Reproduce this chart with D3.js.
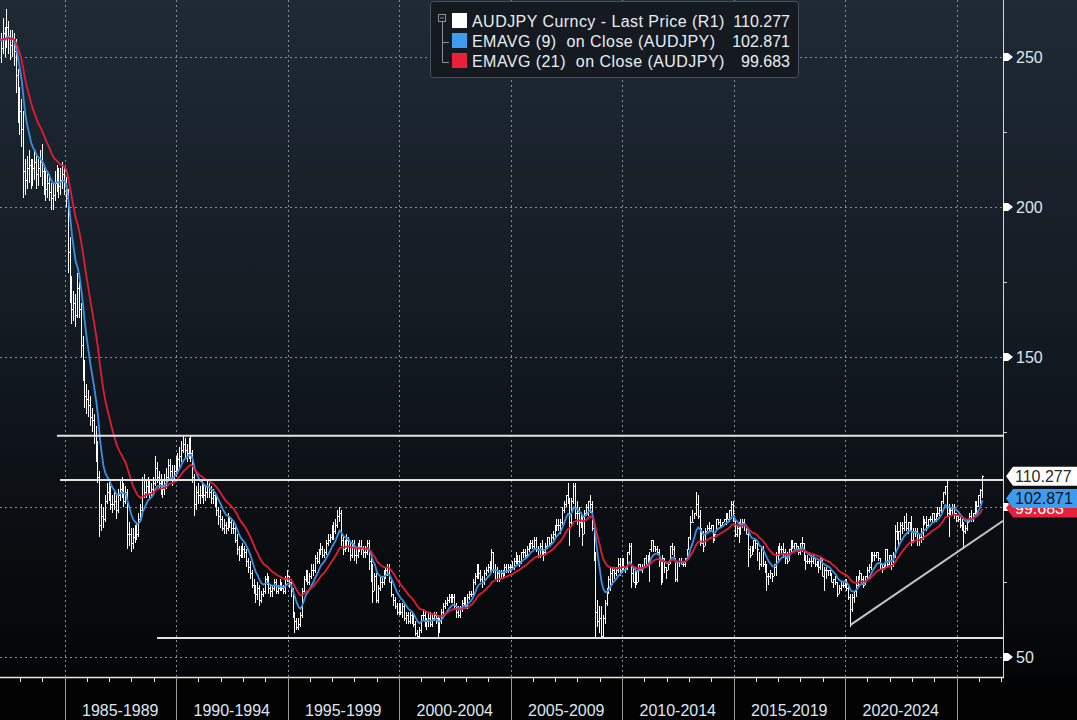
<!DOCTYPE html>
<html>
<head>
<meta charset="utf-8">
<script src="https://cdn.jsdelivr.net/npm/d3@7"></script>
<style>
  html, body { margin: 0; padding: 0; background: #000; }
  svg { display: block; font-family: "Liberation Sans", Arial, sans-serif; }
</style>
</head>
<body>
<svg id="chart" width="1077" height="720"></svg>
<script>

// monthly bars, AUDJPY, Jan 1982 .. Feb 2026 (one row per year)
const firstYear = 1982;

const closeByYear = [
  [256,253,258,255,260,257,254,256,252,244,236,232],
  [226,212,209,213,214,210,213,215,211,213,215,212],
  [209,206,208,205,203,204,208,210,207,209,211,208],
  [203,185,173,166,168,164,173,166,154,146,137,136],
  [134,130,129,124,119,110,94,97,96,102,105,106],
  [101,101,102,99,104,106,107,102,105,91,91,88],
  [90,92,91,96,99,109,105,107,107,105,106,108],
  [113,110,108,107,106,109,110,114,112,109,112,114],
  [116,117,119,121,119,118,120,118,110,101,105,104],
  [104,107,104,105,107,105,103,104,102,99,97,96],
  [93,94,93,96,95,93,93,89,86,84,85,86],
  [85,82,80,78,74,72,71,73,69,71,72,76],
  [76,73,72,73,75,72,73,74,73,72,76,77],
  [75,72,64,62,60,61,64,72,76,78,75,77],
  [79,79,83,82,85,86,84,85,88,89,90,92],
  [92,94,97,98,89,86,88,89,87,84,87,84],
  [84,86,87,86,85,85,88,82,80,72,77,69],
  [73,75,75,78,79,80,75,71,69,67,65,67],
  [65,67,63,64,62,64,63,61,58,57,59,64],
  [64,61,62,63,61,63,64,63,59,62,65,67],
  [68,69,70,69,70,67,65,64,66,68,69,67],
  [70,71,71,75,77,80,78,76,75,78,79,80],
  [80,85,79,79,78,76,78,78,80,79,80,80],
  [80,82,83,82,82,85,85,84,86,87,88,87],
  [89,86,84,87,85,85,87,90,88,90,91,94],
  [94,94,95,99,101,104,102,95,102,107,98,98],
  [95,97,91,98,100,102,101,93,84,65,62,63],
  [57,63,68,72,76,78,79,78,79,81,79,83],
  [80,80,85,87,78,75,78,75,81,79,80,83],
  [81,83,86,89,87,86,85,82,75,83,80,79],
  [81,87,86,83,76,82,82,81,81,83,86,90],
  [95,95,98,101,97,90,88,87,92,93,93,94],
  [89,91,96,95,94,95,96,97,96,99,101,98],
  [91,93,91,94,95,94,91,86,84,86,89,88],
  [86,81,86,81,80,77,77,78,77,80,84,84],
  [86,86,85,83,82,86,88,87,88,87,85,88],
  [88,83,82,82,82,82,83,81,82,80,83,77],
  [79,79,79,78,75,76,75,71,73,74,74,76],
  [73,70,66,70,72,74,76,78,76,74,77,79],
  [80,82,84,84,85,83,81,80,80,86,81,84],
  [81,84,92,92,92,94,93,95,93,95,94,89],
  [92,92,89,90,90,96,95,94,96,96,98,96],
  [97,98,99,102,105,107,98,99,99,100,98,97],
  [96,94,94,92,93,95,97,96,98,100.5,100.5,104],
  [105.5,110.277]
];

const highByYear = [
  [262,258,263,260,266,262,259,259,258,256,246,240],
  [236,232,216,217,219,216,216,219,217,216,219,221],
  [214,212,212,211,208,208,212,214,213,213,215,213],
  [210,206,190,177,172,171,178,175,168,157,149,141],
  [139,137,133,131,127,122,112,101,100,104,108,109],
  [107,104,105,104,106,109,110,108,107,106,95,93],
  [93,94,95,98,101,110,111,109,110,109,108,110],
  [117,115,112,111,109,111,113,116,116,114,114,117],
  [118,120,122,124,123,121,123,124,119,111,107,108],
  [107,109,108,107,109,108,107,106,105,104,100,99],
  [97,96,95,98,97,96,95,94,91,87,87,88],
  [87,86,83,82,79,76,74,75,74,72,73,77],
  [78,77,74,74,76,76,74,76,75,74,77,79],
  [77,76,73,65,63,63,65,73,77,79,79,78],
  [81,81,84,85,86,88,87,86,89,91,91,94],
  [95,96,99,100,99,90,89,91,90,88,89,89],
  [86,88,89,89,87,87,89,89,83,81,78,78],
  [74,77,77,79,80,81,81,76,71,70,68,68],
  [68,68,68,65,65,65,65,64,62,59,60,64],
  [66,65,63,65,65,64,65,65,64,63,66,68],
  [69,70,71,71,71,71,68,67,67,69,70,70],
  [71,72,72,76,78,81,81,79,77,79,80,81],
  [82,86,85,81,80,79,79,79,81,81,81,81],
  [82,83,85,84,84,85,86,86,87,88,89,89],
  [90,90,87,88,89,86,88,90,90,91,92,94],
  [96,96,96,100,102,104,108,103,103,108,108,102],
  [100,98,97,99,101,102,104,102,95,85,69,67],
  [67,64,69,73,77,80,80,80,80,83,83,83],
  [83,80,85,88,88,80,80,79,81,81,81,83],
  [84,84,85,89,89,87,87,86,82,84,83,80],
  [82,87,88,87,83,82,83,83,82,83,86,90],
  [97,99,98,105,104,99,93,92,93,94,95,94],
  [94,91,96,96,96,95,96,98,98,99,102,102],
  [96,94,95,96,96,96,93,92,87,87,89,89],
  [88,85,87,87,82,81,78,79,78,81,85,87],
  [88,87,88,86,85,86,89,89,88,88,87,88],
  [90,88,84,84,83,84,84,83,82,82,83,83],
  [80,80,79,79,78,76,77,75,74,75,75,76],
  [76,74,71,71,72,77,77,79,78,77,77,80],
  [81,85,85,85,85,85,83,81,81,86,86,84],
  [84,85,94,95,92,95,95,97,98,95,95,97],
  [93,93,93,91,93,97,96,97,96,97,98,98],
  [98,100,100,102,105,107,109,101,100,101,101,98],
  [97,97,96,95,94,96,98,99,98,102,102,104],
  [106,110.5]
];

const lowByYear = [
  [250,248,251,250,253,251,249,250,247,238,228,224],
  [220,203,204,206,208,206,207,209,206,207,210,207],
  [204,202,203,202,199,199,202,205,203,204,206,204],
  [200,178,168,161,162,160,163,163,150,142,133,131],
  [130,127,125,121,115,108,90,92,93,95,101,102],
  [99,98,99,96,98,102,103,100,101,86,87,85],
  [86,88,89,90,95,98,103,103,104,103,103,104],
  [107,108,106,104,103,104,106,109,110,107,108,110],
  [111,113,115,118,116,115,116,115,108,97,99,101],
  [101,103,101,102,103,103,101,101,100,97,94,93],
  [92,91,91,92,93,91,91,88,84,82,83,83],
  [83,80,78,76,73,71,68,69,67,68,70,71],
  [74,71,70,70,72,71,71,72,72,71,71,75],
  [73,70,63,58,59,59,60,63,71,75,74,74],
  [76,77,78,81,81,84,83,83,84,87,88,89],
  [89,91,93,95,87,84,85,86,85,82,83,82],
  [81,83,85,84,83,83,84,79,75,68,72,68],
  [68,72,73,74,76,77,75,70,67,66,64,64],
  [64,63,62,61,61,61,61,60,57,56,56,58],
  [62,60,59,60,60,60,62,61,56,58,61,64],
  [66,67,68,68,68,66,63,63,63,65,67,66],
  [66,69,70,70,74,76,76,75,73,74,77,78],
  [78,79,78,76,75,75,76,76,77,78,78,78],
  [79,79,81,81,80,81,83,83,83,85,86,86],
  [86,85,83,83,84,82,84,86,87,88,89,90],
  [92,92,91,94,98,100,101,87,94,101,96,94],
  [90,93,87,91,97,97,98,92,82,56,60,58],
  [56,56,61,67,71,72,74,76,77,78,77,78],
  [79,78,79,84,73,75,73,74,75,79,78,80],
  [81,81,75,85,85,85,84,80,74,75,78,76],
  [79,81,84,82,75,75,80,81,80,80,82,86],
  [89,95,96,97,96,87,88,85,87,92,92,92],
  [88,89,92,94,93,94,95,94,96,95,96,95],
  [90,90,88,91,93,92,91,80,83,84,85,86],
  [82,79,80,80,78,72,74,76,75,77,77,82],
  [84,84,83,81,81,82,85,86,86,86,84,84],
  [85,82,79,81,81,80,81,80,80,78,79,77],
  [72,76,77,77,75,73,74,70,71,72,73,73],
  [72,69,60,65,68,70,73,76,74,73,74,76],
  [78,79,82,82,83,82,79,78,79,80,80,80],
  [79,80,83,89,87,89,91,92,92,91,92,87],
  [88,90,87,87,88,89,94,92,93,95,95,95],
  [95,97,97,98,101,104,97,90,97,97,96,95],
  [95,93,92,86,91,92,95,95,95,97,98,100],
  [101,103]
];

// hand-drawn levels (value, start year) and the rising trendline
const levelValues = [123.77, 109, 56.33];
const levelStarts = [1984.66, 1984.8, 1989.15];
const trendTimes = [2020.25, 2027.09];
const trendValues = [60.7, 95.4];

// legend and last-value tags
const legendNames = ["AUDJPY Curncy - Last Price (R1)", "EMAVG (9)  on Close (AUDJPY)", "EMAVG (21)  on Close (AUDJPY)"];
const legendValues = ["110.277", "102.871", "99.683"];
const lastValues = [110.277, 102.871, 99.683];
const seriesColors = ["#ffffff", "#3b90e6", "#e31b36"];

// 100 sits under the EMA tag in the reference, so only its grid line shows
const yMajor = [50, 100, 150, 200, 250];
const yLabelled = [50, 150, 200, 250];
const yMinor = [75, 125, 175, 225];
const periodStarts = [1985, 1990, 1995, 2000, 2005, 2010, 2015, 2020];
const periodLabels = ["1985-1989", "1990-1994", "1995-1999", "2000-2004", "2005-2009", "2010-2014", "2015-2019", "2020-2024"];

const W = 1077, H = 720;
const plotRight = 1003, plotBottom = 677;

const svg = d3.select("#chart");

// flatten monthly rows, bars dated at month end
const bars = [];
closeByYear.forEach((row, i) => {
  row.forEach((c, m) => {
    bars.push({ t: firstYear + i + (m + 1) / 12, c, h: highByYear[i][m], l: lowByYear[i][m] });
  });
});

function ema(values, n) {
  const k = 2 / (n + 1);
  let e = values[0];
  return values.map((v, i) => (i === 0 ? e : (e = v * k + e * (1 - k))));
}
const closes = bars.map(b => b.c);
const ema9 = ema(closes, 9);
const ema21 = ema(closes, 21);

const x = d3.scaleLinear().domain([1982.1076, 2027.0852]).range([0, plotRight]);
const y = d3.scaleLinear().domain([50, 250]).range([657, 57]);

// background
const defs = svg.append("defs");
const grad = defs.append("linearGradient")
  .attr("id", "bg").attr("x1", 0).attr("y1", 0).attr("x2", 0).attr("y2", 1);
grad.append("stop").attr("offset", "0%").attr("stop-color", "#1f2a35");
grad.append("stop").attr("offset", "45%").attr("stop-color", "#141c24");
grad.append("stop").attr("offset", "100%").attr("stop-color", "#040506");

svg.append("rect").attr("width", W).attr("height", H).attr("fill", "#030303");
svg.append("rect").attr("width", W).attr("height", plotBottom).attr("fill", "url(#bg)");

defs.append("clipPath").attr("id", "plotClip")
  .append("rect").attr("x", 0).attr("y", 0).attr("width", plotRight).attr("height", plotBottom);

// dotted grid
const grid = svg.append("g").attr("stroke", "#858c94").attr("stroke-dasharray", "2,3").attr("stroke-width", 1);
grid.selectAll("line.h").data(yMajor).join("line")
  .attr("x1", 0).attr("x2", plotRight)
  .attr("y1", d => Math.round(y(d)) + 0.5).attr("y2", d => Math.round(y(d)) + 0.5);
grid.selectAll("line.v").data(periodStarts.concat([2025])).join("line")
  .attr("x1", d => Math.round(x(d)) + 0.5).attr("x2", d => Math.round(x(d)) + 0.5)
  .attr("y1", 0).attr("y2", plotBottom);

const plot = svg.append("g").attr("clip-path", "url(#plotClip)");

// price bars
const px = t => Math.floor(x(t)) + 0.5;
plot.append("g")
  .selectAll("path").data(bars).join("path")
  .attr("d", d => `M${px(d.t)},${y(d.h)}V${y(d.l)}M${px(d.t)},${Math.round(y(d.c)) + 0.5}H${px(d.t) + 1.5}`)
  .attr("stroke", "#ffffff").attr("stroke-width", 1).attr("fill", "none");

// EMAs
const line = d3.line().x(d => x(d[0])).y(d => y(d[1]));
plot.append("path")
  .datum(bars.map((b, i) => [b.t, ema9[i]]))
  .attr("d", line).attr("fill", "none").attr("stroke", seriesColors[1]).attr("stroke-width", 1.8);
plot.append("path")
  .datum(bars.map((b, i) => [b.t, ema21[i]]))
  .attr("d", line).attr("fill", "none").attr("stroke", seriesColors[2]).attr("stroke-width", 1.8);

// levels + trendline
plot.selectAll("line.level").data(levelValues).join("line")
  .attr("x1", (d, i) => x(levelStarts[i])).attr("x2", plotRight)
  .attr("y1", d => y(d)).attr("y2", d => y(d))
  .attr("stroke", "#e2e2e2").attr("stroke-width", 2);
plot.append("line")
  .attr("x1", x(trendTimes[0])).attr("y1", y(trendValues[0]))
  .attr("x2", x(trendTimes[1])).attr("y2", y(trendValues[1]))
  .attr("stroke", "#c4c4c4").attr("stroke-width", 2);

// right axis
svg.append("line").attr("x1", plotRight + 0.5).attr("x2", plotRight + 0.5)
  .attr("y1", 0).attr("y2", plotBottom).attr("stroke", "#d4d4d4");
svg.selectAll("line.minor").data(yMinor).join("line")
  .attr("x1", plotRight).attr("x2", plotRight + 4)
  .attr("y1", d => Math.round(y(d)) + 0.5).attr("y2", d => Math.round(y(d)) + 0.5)
  .attr("stroke", "#d4d4d4");
svg.selectAll("polygon.tick").data(yMajor).join("polygon")
  .attr("points", d => {
    const v = y(d);
    return `${plotRight},${v - 4} ${plotRight + 5},${v - 4} ${plotRight + 10},${v} ${plotRight + 5},${v + 4} ${plotRight},${v + 4}`;
  })
  .attr("fill", "#ffffff");
svg.selectAll("text.ylab").data(yLabelled).join("text")
  .attr("x", plotRight + 13).attr("y", d => y(d) + 6)
  .attr("font-size", 16).attr("fill", "#dfe6ee")
  .text(d => d);

// last value tags (red under blue under white)
const tagFill = ["#ffffff", "#3d9bf0", "#e8213a"];
const tagText = ["#2a2a2a", "#111111", "#ffffff"];
[2, 1, 0].forEach(i => {
  const v = y(lastValues[i]);
  svg.append("polygon")
    .attr("points", `${plotRight + 3},${v} ${plotRight + 10},${v - 9.5} ${W},${v - 9.5} ${W},${v + 9.5} ${plotRight + 10},${v + 9.5}`)
    .attr("fill", tagFill[i]);
  svg.append("text")
    .attr("x", plotRight + 12).attr("y", v + 6)
    .attr("font-size", 16).attr("fill", tagText[i])
    .text(legendValues[i]);
});

// bottom axis
svg.append("line").attr("x1", 0).attr("x2", plotRight + 1)
  .attr("y1", plotBottom + 0.5).attr("y2", plotBottom + 0.5)
  .attr("stroke", "#e6e6e6").attr("stroke-width", 1.5);
svg.selectAll("line.yr").data(d3.range(1983, 2028)).join("line")
  .attr("x1", d => Math.round(x(d)) + 0.5).attr("x2", d => Math.round(x(d)) + 0.5)
  .attr("y1", plotBottom).attr("y2", plotBottom + 5)
  .attr("stroke", "#e6e6e6");
svg.selectAll("line.sep").data(periodStarts.concat([2025])).join("line")
  .attr("x1", d => Math.round(x(d)) + 0.5).attr("x2", d => Math.round(x(d)) + 0.5)
  .attr("y1", plotBottom).attr("y2", H)
  .attr("stroke", "#9a9a9a");
svg.selectAll("text.xlab").data(periodLabels).join("text")
  .attr("x", (d, i) => (x(periodStarts[i]) + x(periodStarts[i] + 5)) / 2)
  .attr("y", 716)
  .attr("text-anchor", "middle").attr("font-size", 16).attr("fill", "#dfe6ee")
  .text(d => d);

// legend
const leg = svg.append("g");
leg.append("rect")
  .attr("x", 430.5).attr("y", 1.5).attr("width", 368).attr("height", 76).attr("rx", 3)
  .attr("fill", "#141a20").attr("stroke", "#4a525b");
leg.append("rect").attr("x", 438.5).attr("y", 14.5).attr("width", 7).attr("height", 7)
  .attr("fill", "none").attr("stroke", "#8a9098");
leg.append("line").attr("x1", 440).attr("x2", 444).attr("y1", 18).attr("y2", 18).attr("stroke", "#8a9098");
leg.append("path").attr("d", "M442.5,22V62.5H449M442.5,42.5H449")
  .attr("fill", "none").attr("stroke", "#8a9098");
legendNames.forEach((name, i) => {
  const cy = 21 + i * 20;
  leg.append("rect").attr("x", 452).attr("y", cy - 8).attr("width", 15).attr("height", 15)
    .attr("fill", i === 0 ? "#ffffff" : tagFill[i]);
  leg.append("text").attr("x", 472).attr("y", cy + 6)
    .attr("font-size", 16).attr("letter-spacing", 0.45)
    .attr("fill", "#e8eef5").style("white-space", "pre")
    .text(name);
  leg.append("text").attr("x", 790).attr("y", cy + 6).attr("text-anchor", "end")
    .attr("font-size", 16).attr("fill", "#e8eef5")
    .text(legendValues[i]);
});
</script>
</body>
</html>
